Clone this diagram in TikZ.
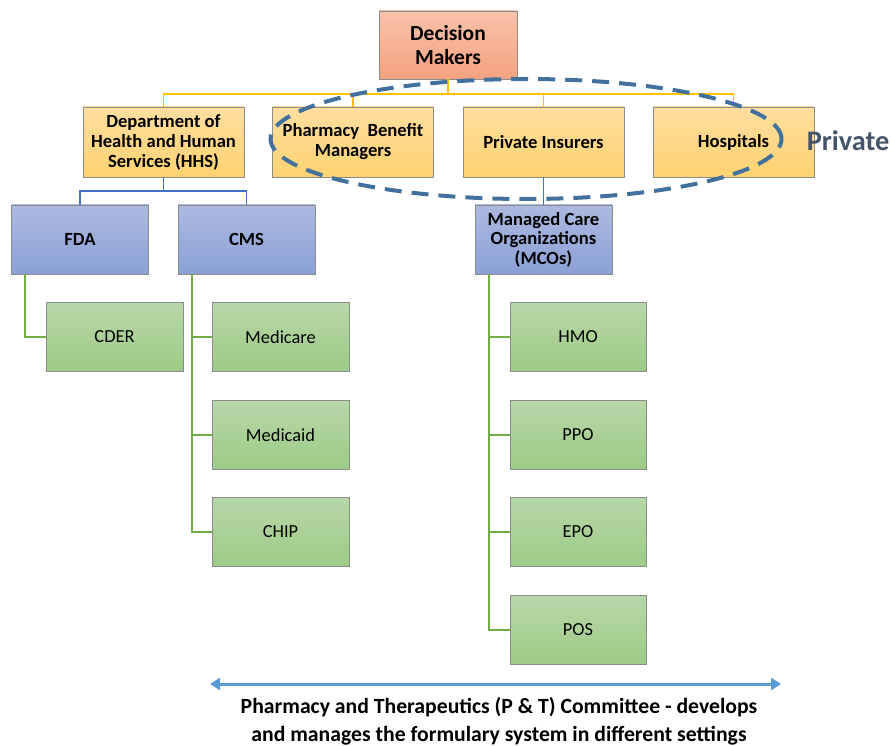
\documentclass[tikz,border=0pt]{standalone}
\usepackage{fontspec}
\setmainfont{Carlito}
\usetikzlibrary{shapes.geometric,arrows.meta}
\definecolor{dmtop}{RGB}{248,194,170}
\definecolor{dmbot}{RGB}{244,162,128}
\definecolor{yetop}{RGB}{255,222,160}
\definecolor{yebot}{RGB}{255,211,112}
\definecolor{bltop}{RGB}{172,186,224}
\definecolor{blbot}{RGB}{138,160,214}
\definecolor{grtop}{RGB}{183,215,168}
\definecolor{grbot}{RGB}{157,203,134}
\definecolor{boxline}{RGB}{140,140,140}
\definecolor{ylink}{RGB}{255,192,0}
\definecolor{blink}{RGB}{68,114,196}
\definecolor{glink}{RGB}{112,173,71}
\definecolor{ovalc}{RGB}{65,113,156}
\definecolor{privc}{RGB}{68,84,106}
\definecolor{arrc}{RGB}{91,155,213}
\tikzset{
  box/.style={draw=boxline, line width=0.8pt, align=center, inner sep=2pt},
  dmbox/.style={box, top color=dmtop, bottom color=dmbot, minimum width=138, minimum height=68, font=\fontsize{21.5}{24}\selectfont\bfseries},
  ybox/.style={box, top color=yetop, bottom color=yebot, minimum width=161, minimum height=70, font=\fontsize{18.6}{20}\selectfont\bfseries},
  bbox/.style={box, top color=bltop, bottom color=blbot, minimum width=137, minimum height=69, font=\fontsize{18.6}{19.5}\selectfont\bfseries},
  gbox/.style={box, top color=grtop, bottom color=grbot, minimum width=137, minimum height=69, font=\fontsize{18.4}{20}\selectfont},
  ylinkst/.style={draw=ylink, line width=1.3pt},
  blinkst/.style={draw=blink, line width=1.3pt},
  glinkst/.style={draw=glink, line width=1.8pt},
}
\begin{document}
\begin{tikzpicture}[x=1pt,y=-1pt]
\useasboundingbox (0,0) rectangle (891,746);
% nodes
\node[dmbox] (dm) at (448,45) {Decision\\Makers};
\node[ybox] (hhs) at (163.5,142) {Department of\\Health and Human\\Services (HHS)};
\node[ybox] (pbm) at (353,142) {Pharmacy\ \ Benefit\\Managers};
\node[ybox] (pi) at (543.5,142) {Private Insurers};
\node[ybox] (hos) at (733.5,142) {Hospitals};
\node[bbox] (fda) at (80,239.5) {FDA};
\node[bbox] (cms) at (246.5,239.5) {CMS};
\node[bbox] (mco) at (543.5,239.5) {Managed Care\\Organizations\\(MCOs)};
\node[gbox] (cder) at (114.5,337) {CDER};
\node[gbox] (medicare) at (280.5,337) {Medicare};
\node[gbox] (medicaid) at (280.5,435) {Medicaid};
\node[gbox] (chip) at (280.5,532) {CHIP};
\node[gbox, minimum width=136] (hmo) at (578,337) {HMO};
\node[gbox, minimum width=136] (ppo) at (578,435) {PPO};
\node[gbox, minimum width=136] (epo) at (578,532) {EPO};
\node[gbox, minimum width=136] (pos) at (578,630) {POS};
% yellow bus
\coordinate (bus) at (0,94);
\draw[ylinkst] (dm.south) -- (dm.south |- bus);
\draw[ylinkst] (hhs.north) -- (hhs.north |- bus) -- (hos.north |- bus) -- (hos.north);
\draw[ylinkst] (pbm.north) -- (pbm.north |- bus);
\draw[ylinkst] (pi.north) -- (pi.north |- bus);
% blue links
\coordinate (hb) at (0,191);
\draw[blinkst] (hhs.south) -- (hhs.south |- hb);
\draw[blinkst] (fda.north) -- (fda.north |- hb) -- (cms.north |- hb) -- (cms.north);
\draw[blinkst] (pi.south) -- (mco.north);
% green links
\draw[glinkst] ([xshift=14pt]fda.south west) |- (cder.west);
\draw[glinkst] ([xshift=14pt]cms.south west) |- (chip.west);
\draw[glinkst] (medicare.west) -- ++(-20,0);
\draw[glinkst] (medicaid.west) -- ++(-20,0);
\draw[glinkst] ([xshift=14pt]mco.south west) |- (pos.west);
\draw[glinkst] (hmo.west) -- ++(-21,0);
\draw[glinkst] (ppo.west) -- ++(-21,0);
\draw[glinkst] (epo.west) -- ++(-21,0);
% dashed oval
\node[draw=ovalc, line width=4pt, dash pattern=on 17pt off 10pt, ellipse, minimum width=511, minimum height=120, inner sep=0pt] (oval) at (526,139) {};
\node[text=privc, font=\fontsize{28.3}{30}\selectfont\bfseries] (priv) at (848,141) {Private};
% bottom arrow
\coordinate (al) at (210,684);
\coordinate (ar) at (781,684);
\draw[arrc, line width=3pt, {Triangle[length=10pt,width=12pt]}-{Triangle[length=10pt,width=12pt]}] (al) -- (ar);
\node[align=center, font=\fontsize{21.7}{28}\selectfont\bfseries] (ptc) at (499,721) {Pharmacy and Therapeutics (P \& T) Committee - develops\\and manages the formulary system in different settings};
\end{tikzpicture}
\end{document}
